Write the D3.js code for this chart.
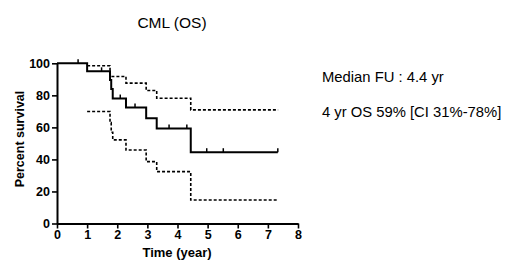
<!DOCTYPE html>
<html>
<head>
<meta charset="utf-8">
<script src="https://cdn.jsdelivr.net/npm/d3@7"></script>
<style>
  body { margin: 0; background: #fff; }
  svg { display: block; font-family: Arial, "Liberation Sans", sans-serif; }
</style>
</head>
<body>
<svg id="chart" width="520" height="273"></svg>
<script>
// Kaplan-Meier estimate
var survTime = [0, 1.0, 1.76, 1.8, 1.85, 2.29, 2.96, 3.31, 4.44, 7.33];
var survVal = [100, 95, 89.5, 84, 78, 72.4, 65.7, 59.3, 44.5, 44.5];
var censorTime = [0.7, 1.48, 2.1, 2.59, 3.72, 4.31, 4.97, 5.52, 7.33];
// confidence band
var upperTime = [1.0, 1.76, 2.29, 2.96, 3.31, 4.44, 7.34];
var upperVal = [98.5, 91.8, 87.6, 83, 78.2, 70.9, 70.9];
var lowerTime = [1.0, 1.76, 1.8, 1.85, 2.29, 2.96, 3.31, 4.44, 7.33];
var lowerVal = [69.9, 63, 57, 52.2, 45.9, 38.6, 32.4, 14.7, 14.7];
var xTicks = [0, 1, 2, 3, 4, 5, 6, 7, 8];
var yTicks = [0, 20, 40, 60, 80, 100];

var svg = d3.select("#chart");
var x = d3.scaleLinear().domain([0, 8]).range([57, 298]);
var y = d3.scaleLinear().domain([0, 100]).range([223.5, 63.3]);

function zip(t, v) {
    return t.map(function (d, i) { return [d, v[i]]; });
}
function valueAt(t) {
    var v = survVal[0];
    for (var i = 0; i < survTime.length; i++) {
        if (survTime[i] <= t) v = survVal[i];
    }
    return v;
}

var line = d3.line()
    .x(function (d) { return x(d[0]); })
    .y(function (d) { return y(d[1]); })
    .curve(d3.curveStepAfter);

// CI lines
svg.append("path")
    .attr("d", line(zip(upperTime, upperVal)))
    .attr("fill", "none").attr("stroke", "#000")
    .attr("stroke-width", 1.6).attr("stroke-dasharray", "3,2");
svg.append("path")
    .attr("d", line(zip(lowerTime, lowerVal)))
    .attr("fill", "none").attr("stroke", "#000")
    .attr("stroke-width", 1.6).attr("stroke-dasharray", "3,2");

// survival curve
svg.append("path")
    .attr("d", line(zip(survTime, survVal)))
    .attr("fill", "none").attr("stroke", "#000")
    .attr("stroke-width", 2);

// censor marks
svg.selectAll(".cens")
    .data(censorTime)
    .enter()
    .append("line")
    .attr("x1", function (d) { return x(d); })
    .attr("x2", function (d) { return x(d); })
    .attr("y1", function (d) { return y(valueAt(d)); })
    .attr("y2", function (d) { return y(valueAt(d)) - 4; })
    .attr("stroke", "#000").attr("stroke-width", 1.5);

// axes
var xAxis = svg.append("g")
    .attr("transform", "translate(0," + y(0) + ")")
    .call(d3.axisBottom(x).tickValues(xTicks).tickSize(5).tickSizeOuter(0).tickPadding(2));
var yAxis = svg.append("g")
    .attr("transform", "translate(" + x(0) + ",0)")
    .call(d3.axisLeft(y).tickValues(yTicks).tickSize(5).tickSizeOuter(0).tickPadding(2));

[xAxis, yAxis].forEach(function (g) {
    g.select(".domain").attr("stroke-width", 2);
    g.selectAll(".tick line").attr("stroke-width", 1.6);
    g.selectAll("text")
        .attr("font-family", "Arial, 'Liberation Sans', sans-serif")
        .attr("font-size", 12.5).attr("font-weight", "bold").attr("fill", "#000");
});

// labels
svg.append("text")
    .attr("x", 177).attr("y", 257)
    .attr("text-anchor", "middle")
    .attr("font-size", 13).attr("font-weight", "bold")
    .text("Time (year)");
svg.append("text")
    .attr("transform", "translate(24,139) rotate(-90)")
    .attr("text-anchor", "middle")
    .attr("font-size", 12.5).attr("font-weight", "bold")
    .text("Percent survival");
svg.append("text")
    .attr("x", 172).attr("y", 28)
    .attr("text-anchor", "middle")
    .attr("font-size", 15.5)
    .text("CML (OS)");
svg.append("text")
    .attr("x", 322).attr("y", 82)
    .attr("font-size", 14.8)
    .text("Median FU : 4.4 yr");
svg.append("text")
    .attr("x", 322).attr("y", 117)
    .attr("font-size", 14.8)
    .text("4 yr OS 59% [CI 31%-78%]");
</script>
</body>
</html>
